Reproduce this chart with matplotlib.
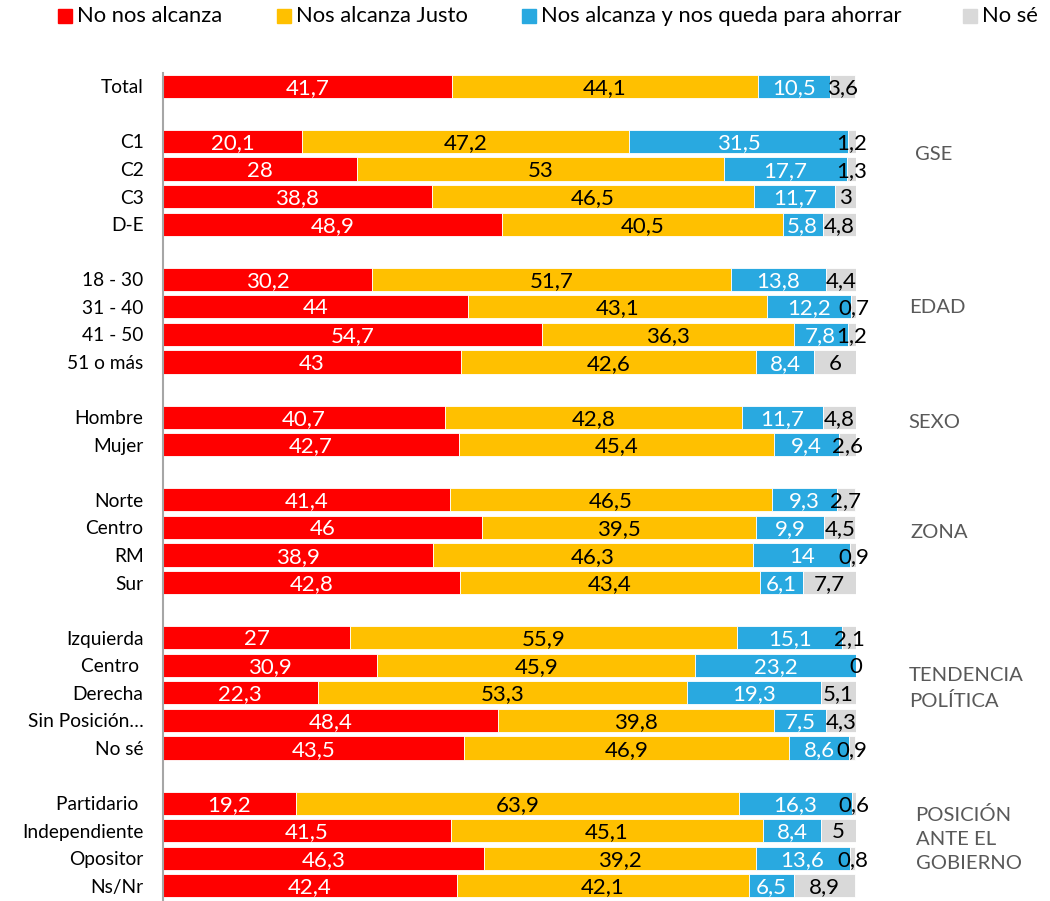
import matplotlib.pyplot as plt
from matplotlib.patches import Rectangle

plt.rcParams['font.family'] = ['Lato', 'DejaVu Sans']

# datos (porcentajes)
series = ['No nos alcanza', 'Nos alcanza Justo', 'Nos alcanza y nos queda para ahorrar', 'No sé']
colors = ['#FF0000', '#FFC000', '#29A9E0', '#D9D9D9']
text_colors = ['white', 'black', 'white', 'black']

# None = fila vacía entre grupos
categories = ['Total', None,
              'C1', 'C2', 'C3', 'D-E', None,
              '18 - 30', '31 - 40', '41 - 50', '51 o más', None,
              'Hombre', 'Mujer', None,
              'Norte', 'Centro', 'RM', 'Sur', None,
              'Izquierda', 'Centro ', 'Derecha', 'Sin Posición…', 'No sé', None,
              'Partidario ', 'Independiente', 'Opositor', 'Ns/Nr']

no_alcanza = [41.7, None, 20.1, 28, 38.8, 48.9, None, 30.2, 44, 54.7, 43, None,
              40.7, 42.7, None, 41.4, 46, 38.9, 42.8, None,
              27, 30.9, 22.3, 48.4, 43.5, None, 19.2, 41.5, 46.3, 42.4]
justo = [44.1, None, 47.2, 53, 46.5, 40.5, None, 51.7, 43.1, 36.3, 42.6, None,
         42.8, 45.4, None, 46.5, 39.5, 46.3, 43.4, None,
         55.9, 45.9, 53.3, 39.8, 46.9, None, 63.9, 45.1, 39.2, 42.1]
ahorrar = [10.5, None, 31.5, 17.7, 11.7, 5.8, None, 13.8, 12.2, 7.8, 8.4, None,
           11.7, 9.4, None, 9.3, 9.9, 14, 6.1, None,
           15.1, 23.2, 19.3, 7.5, 8.6, None, 16.3, 8.4, 13.6, 6.5]
no_se = [3.6, None, 1.2, 1.3, 3, 4.8, None, 4.4, 0.7, 1.2, 6, None,
         4.8, 2.6, None, 2.7, 4.5, 0.9, 7.7, None,
         2.1, 0, 5.1, 4.3, 0.9, None, 0.6, 5, 0.8, 8.9]

groups = ['GSE', 'EDAD', 'SEXO', 'ZONA', 'TENDENCIA\nPOLÍTICA', 'POSICIÓN\nANTE EL\nGOBIERNO']
group_y = [2.46, 8.04, 12.2, 16.2, 21.85, 27.3]
group_x = [108.5, 107.6, 107.6, 107.9, 107.6, 108.6]

fig = plt.figure(figsize=(10.5, 9.01), dpi=100)
ax = fig.add_axes([163 / 1050, 0, 693 / 1050, 1 - 73 / 901])

def fmt(v):
    s = ('%.1f' % v).rstrip('0').rstrip('.')
    return s.replace('.', ',')

all_series = [no_alcanza, justo, ahorrar, no_se]
rows = [i for i, c in enumerate(categories) if c is not None]
left = [0.0] * len(categories)
for vals, col, tcol in zip(all_series, colors, text_colors):
    ys = rows
    ws = [vals[i] for i in rows]
    ls = [left[i] for i in rows]
    ax.barh(ys, ws, left=ls, height=0.84, color=col, edgecolor='white', linewidth=0.6)
    for i in rows:
        ax.text(left[i] + vals[i] / 2, i + 0.06, fmt(vals[i]), ha='center', va='center',
                color=tcol, fontsize=16)
        left[i] += vals[i]

ax.set_yticks(rows)
ax.set_yticklabels([categories[i] for i in rows], fontsize=13.8)
ax.tick_params(axis='y', length=0, pad=14)
ax.set_xticks([])
ax.set_xlim(0, 100)
ax.set_ylim(29.55, -0.48)
for s in ['top', 'right', 'bottom']:
    ax.spines[s].set_visible(False)
ax.spines['left'].set_color('#A6A6A6')
ax.spines['left'].set_linewidth(1.5)

for g, gy, gx in zip(groups, group_y, group_x):
    ax.text(gx, gy, g, ha='left', va='center', color='#595959', fontsize=14.6,
            linespacing=1.5, clip_on=False)

# leyenda
leg_x = [58, 277, 522, 963]
for x, lab, col in zip(leg_x, series, colors):
    fig.add_artist(Rectangle((x / 1050, 1 - 23 / 901), 14 / 1050, 14 / 901,
                             color=col, transform=fig.transFigure))
    fig.text((x + 19) / 1050, 1 - 16 / 901, lab, ha='left', va='center', fontsize=15.8)

plt.savefig('out.png', dpi=100)
